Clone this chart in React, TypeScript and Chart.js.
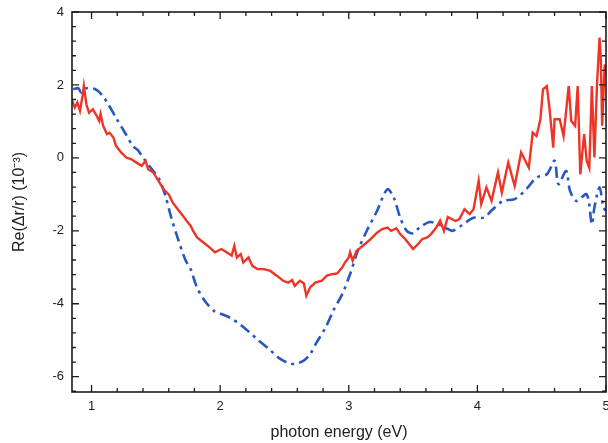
import { useEffect, useRef } from "react";
import { Chart, registerables } from "chart.js";
Chart.register(...registerables);

const redX = [0.85, 0.87, 0.89, 0.91, 0.93, 0.94, 0.96, 0.98, 1.01, 1.04, 1.06, 1.07, 1.09, 1.12, 1.14, 1.17, 1.19, 1.23, 1.27, 1.31, 1.35, 1.39, 1.42, 1.44, 1.48, 1.52, 1.56, 1.6, 1.63, 1.67, 1.71, 1.74, 1.77, 1.79, 1.82, 1.87, 1.92, 1.96, 2.01, 2.05, 2.09, 2.11, 2.13, 2.16, 2.18, 2.22, 2.25, 2.29, 2.34, 2.39, 2.44, 2.49, 2.53, 2.56, 2.58, 2.62, 2.65, 2.67, 2.7, 2.74, 2.79, 2.83, 2.87, 2.91, 2.95, 2.97, 3.0, 3.01, 3.03, 3.06, 3.11, 3.17, 3.22, 3.26, 3.3, 3.33, 3.37, 3.4, 3.44, 3.48, 3.5, 3.54, 3.57, 3.61, 3.64, 3.68, 3.71, 3.74, 3.77, 3.83, 3.86, 3.9, 3.94, 3.97, 4.01, 4.03, 4.07, 4.11, 4.16, 4.19, 4.24, 4.29, 4.34, 4.4, 4.43, 4.46, 4.49, 4.51, 4.54, 4.56, 4.59, 4.6, 4.64, 4.67, 4.71, 4.73, 4.76, 4.78, 4.8, 4.83, 4.85, 4.87, 4.89, 4.91, 4.93, 4.95, 4.96, 4.97, 4.99, 5.0];
const redY = [1.56, 1.38, 1.52, 1.29, 1.7, 1.97, 1.47, 1.24, 1.33, 1.15, 1.01, 1.2, 0.88, 0.65, 0.69, 0.56, 0.33, 0.15, 0.01, -0.04, -0.13, -0.22, -0.08, -0.31, -0.4, -0.63, -0.86, -1.0, -1.22, -1.41, -1.59, -1.73, -1.86, -2.0, -2.18, -2.32, -2.46, -2.59, -2.5, -2.59, -2.68, -2.41, -2.73, -2.64, -2.87, -2.73, -2.96, -3.05, -3.05, -3.1, -3.23, -3.37, -3.42, -3.35, -3.51, -3.37, -3.44, -3.78, -3.55, -3.42, -3.37, -3.23, -3.19, -3.17, -3.0, -2.87, -2.73, -2.59, -2.82, -2.55, -2.41, -2.23, -2.05, -1.95, -1.91, -2.0, -1.93, -2.09, -2.23, -2.41, -2.5, -2.36, -2.23, -2.18, -2.09, -1.91, -1.72, -2.0, -1.62, -1.73, -1.68, -1.41, -1.54, -1.41, -0.63, -1.27, -0.81, -1.18, -0.4, -0.95, -0.13, -0.77, 0.15, -0.27, 0.69, 0.6, 1.06, 1.88, 1.97, 1.38, 0.28, 1.06, 1.06, 0.6, 1.97, 1.01, 0.88, 1.97, -0.45, 0.65, -0.08, -0.27, 1.97, 0.01, 2.02, 3.3, 2.7, 0.88, 2.56, 2.3];

const blueX = [0.858, 0.897, 0.92, 0.96, 1.03, 1.08, 1.13, 1.19, 1.26, 1.32, 1.36, 1.41, 1.48, 1.52, 1.57, 1.62, 1.67, 1.73, 1.77, 1.82, 1.88, 1.95, 2.01, 2.08, 2.16, 2.23, 2.3, 2.38, 2.45, 2.52, 2.58, 2.65, 2.7, 2.75, 2.82, 2.88, 2.95, 3.01, 3.07, 3.14, 3.22, 3.3, 3.35, 3.4, 3.45, 3.5, 3.55, 3.63, 3.71, 3.77, 3.81, 3.89, 3.97, 4.05, 4.12, 4.2, 4.29, 4.38, 4.46, 4.54, 4.6, 4.63, 4.69, 4.72, 4.77, 4.85, 4.89, 4.91, 4.95, 4.98, 5.0];
const blueY = [1.88, 1.91, 1.79, 1.91, 1.88, 1.73, 1.47, 1.1, 0.69, 0.33, 0.21, -0.04, -0.36, -0.54, -0.99, -1.64, -2.2, -2.8, -3.05, -3.55, -3.92, -4.19, -4.28, -4.39, -4.58, -4.79, -5.01, -5.24, -5.47, -5.61, -5.65, -5.56, -5.38, -5.06, -4.65, -4.19, -3.73, -3.19, -2.55, -2.0, -1.45, -0.86, -1.09, -1.64, -2.0, -2.07, -1.91, -1.76, -1.84, -1.95, -2.0, -1.82, -1.64, -1.64, -1.41, -1.18, -1.13, -0.86, -0.54, -0.45, -0.08, -0.72, -0.36, -0.9, -1.18, -1.0, -1.82, -1.36, -0.81, -1.36, -1.45];

const xTicks = [1, 2, 3, 4, 5];
const yTicks = [-6, -4, -2, 0, 2, 4];

const FONT = "'Liberation Sans', Arial, sans-serif";

const framePlugin = {
  id: "frame",
  afterDatasetsDraw(chart: any) {
    const { ctx, chartArea, scales } = chart;
    const { left, right, top, bottom } = chartArea;
    const xs = scales.x;
    const ys = scales.y;
    ctx.save();
    ctx.strokeStyle = "#1c1c1c";
    ctx.lineWidth = 1.6;
    ctx.strokeRect(left, top, right - left, bottom - top);
    ctx.lineWidth = 1.3;
    ctx.beginPath();
    for (let i = Math.ceil(xs.min * 5); i <= Math.floor(xs.max * 5 + 1e-6); i++) {
      const px = xs.getPixelForValue(i / 5);
      const len = i % 5 === 0 ? 7 : 4;
      ctx.moveTo(px, bottom);
      ctx.lineTo(px, bottom - len);
      ctx.moveTo(px, top);
      ctx.lineTo(px, top + len);
    }
    for (let i = Math.ceil(ys.min / 0.4 - 1e-6); i <= Math.floor(ys.max / 0.4 + 1e-6); i++) {
      const py = ys.getPixelForValue(i * 0.4);
      const len = i % 5 === 0 ? 7 : 4;
      ctx.moveTo(left, py);
      ctx.lineTo(left + len, py);
      ctx.moveTo(right, py);
      ctx.lineTo(right - len, py);
    }
    ctx.stroke();
    ctx.restore();
  },
};

export default function App() {
  const ref = useRef<HTMLCanvasElement | null>(null);
  useEffect(() => {
    document.body.style.margin = "0";
    const canvas = ref.current!;
    const chart = new Chart(canvas, {
      type: "line",
      data: {
        datasets: [
          {
            label: "red",
            data: redX.map((x, i) => ({ x, y: redY[i] })),
            borderColor: "rgb(238,52,38)",
            borderWidth: 2.4,
            pointRadius: 0,
            tension: 0,
          },
          {
            label: "blue",
            data: blueX.map((x, i) => ({ x, y: blueY[i] })),
            borderColor: "rgb(38,88,192)",
            borderWidth: 2.6,
            borderDash: [11, 5, 3, 5],
            pointRadius: 0,
            tension: 0.3,
          },
        ],
      },
      options: {
        animation: false,
        responsive: false,
        events: [],
        layout: { padding: { top: 12, right: 2, left: 0, bottom: 0 } },
        plugins: { legend: { display: false }, tooltip: { enabled: false } },
        scales: {
          x: {
            type: "linear",
            min: 0.848,
            max: 5.0,
            grid: { display: false, drawTicks: false },
            border: { display: false },
            ticks: {
              padding: 7,
              color: "#222",
              font: { family: FONT, size: 13 },
              maxRotation: 0,
              autoSkip: false,
            },
            afterBuildTicks: (s: any) => {
              s.ticks = xTicks.map((v) => ({ value: v }));
            },
            afterFit: (s: any) => {
              s.height = 51;
              s.paddingLeft = 0;
              s.paddingRight = 0;
            },
            title: {
              display: true,
              text: "photon energy (eV)",
              color: "#222",
              font: { family: FONT, size: 16 },
              padding: { top: 0, bottom: 1 },
            },
          },
          y: {
            type: "linear",
            min: -6.42,
            max: 4.0,
            grid: { display: false, drawTicks: false },
            border: { display: false },
            ticks: {
              padding: 8,
              color: "#222",
              font: { family: FONT, size: 13 },
              autoSkip: false,
            },
            afterBuildTicks: (s: any) => {
              s.ticks = yTicks.map((v) => ({ value: v }));
            },
            afterFit: (s: any) => {
              s.width = 72;
              s.paddingTop = 0;
              s.paddingBottom = 0;
            },
            title: {
              display: true,
              text: "Re(\u0394r/r) (10\u207B\u00B3)",
              color: "#222",
              font: { family: FONT, size: 16 },
              padding: { top: 10, bottom: 0 },
            },
          },
        },
      },
      plugins: [framePlugin],
    });
    return () => chart.destroy();
  }, []);
  return (
    <canvas
      ref={ref}
      width={608}
      height={443}
      style={{ position: "absolute", left: 0, top: 0, width: 608, height: 443 }}
    />
  );
}
